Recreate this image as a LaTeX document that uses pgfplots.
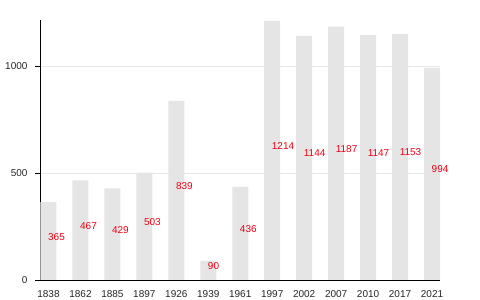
\documentclass[border=0pt]{standalone}
\usepackage{fontspec}
\setmainfont{Liberation Sans}
\usepackage{pgfplots}
\usepackage{pgfplotstable}
\pgfplotsset{compat=1.18}
\definecolor{barcol}{RGB}{229,229,229}
\definecolor{gridcol}{RGB}{230,230,230}
\definecolor{labred}{RGB}{240,0,20}
\pgfplotstableread{
x v lab
0 365 365
1 467 467
2 429 429
3 503 503
4 839 839
5 90 90
6 436 436
7 1214 1214
8 1144 1144
9 1187 1187
10 1147 1147
11 1153 1153
12 994 994
}\data
\begin{document}
\begin{tikzpicture}
\useasboundingbox (0,0) rectangle (480pt,300pt);
\begin{axis}[
  at={(40.5pt,20pt)}, anchor=south west,
  scale only axis, width=399.5pt, height=260pt,
  xmin=-0.25, xmax=12.25, ymin=0, ymax=1218,
  axis lines*=left,
  axis line style={black, line width=0.8pt},
  xtick={0,...,12},
  xticklabels={1838,1862,1885,1897,1926,1939,1961,1997,2002,2007,2010,2017,2021},
  ytick={0,500,1000},
  ymajorgrids, grid style={gridcol, line width=0.8pt},
  tick align=outside,
  x tick style={draw=none},
  y tick style={black, line width=0.8pt},
  major tick length=5pt,
  tick label style={font=\fontsize{10}{12}\selectfont, text=black!85},
  x tick label style={yshift=-2pt},
  y tick label style={xshift=-4.5pt},
  /pgf/number format/assume math mode=true,
  /pgf/number format/1000 sep={},
  clip=false,
]
\addplot[ybar, bar width=16pt, fill=barcol, draw=none] table[x=x, y=v]{\data};
\addplot[only marks, mark=none, nodes near coords, point meta=explicit symbolic,
  nodes near coords style={anchor=base west, text=labred, inner sep=0pt, xshift=-0.5pt, yshift=1pt, font=\fontsize{10}{12}\selectfont}]
  table[x=x, y expr=\thisrow{v}/2, meta=lab]{\data};
\end{axis}
\end{tikzpicture}
\end{document}
